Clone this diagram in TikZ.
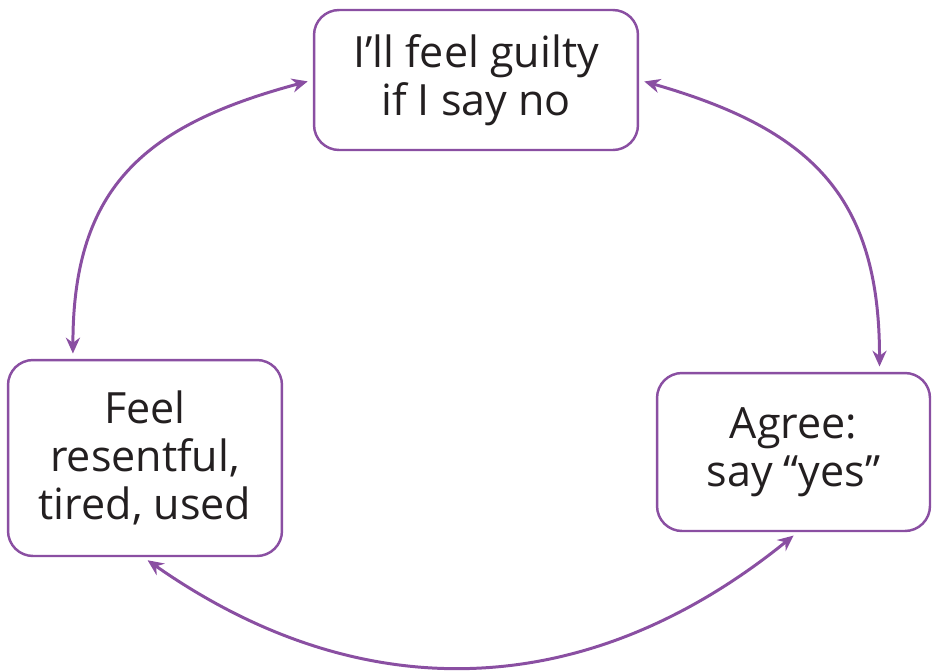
\documentclass[tikz,border=0pt]{standalone}
\usepackage{fontspec}
\setmainfont{Open Sans}
\usetikzlibrary{arrows.meta, positioning}
\definecolor{cyclepurple}{HTML}{8A4FA2}
\definecolor{textgrey}{HTML}{231F20}

\tikzset{
  thoughtbox/.style={draw=cyclepurple, line width=1.4pt, rounded corners=0.5cm, fill=white,
    align=center, text=textgrey, font=\fontsize{24.5}{27.5}\selectfont, inner sep=0pt},
  cyclearrow/.style={cyclepurple, line width=1.7pt, {Stealth[length=9pt,width=8pt]}-{Stealth[length=9pt,width=8pt]},
    shorten <=3pt, shorten >=3pt}
}

\begin{document}
\begin{tikzpicture}[x=0.02cm, y=-0.02cm]
  \useasboundingbox (0,0) rectangle (932,670);

  % the three states
  \node[thoughtbox, minimum width=6.48cm, minimum height=2.8cm] (guilty) at (476,80)
    {I’ll feel guilty\\if I say no};
  \node[thoughtbox, minimum width=5.48cm, minimum height=3.92cm] (resent) at (145,458)
    {Feel\\resentful,\\tired, used};
  \node[thoughtbox, minimum width=5.46cm, minimum height=3.16cm] (agree) at (793.5,452)
    {Agree:\\say “yes”};

  % connectors round the cycle
  \draw[cyclearrow] (guilty.west) to[out=195, in=90, looseness=1.2] (resent.126);
  \draw[cyclearrow] (guilty.east) to[out=-16, in=90, looseness=1.2] (agree.43);
  \draw[cyclearrow] (resent.-91) to[out=-35, in=-141, looseness=1.05] (agree.-87);
\end{tikzpicture}
\end{document}
